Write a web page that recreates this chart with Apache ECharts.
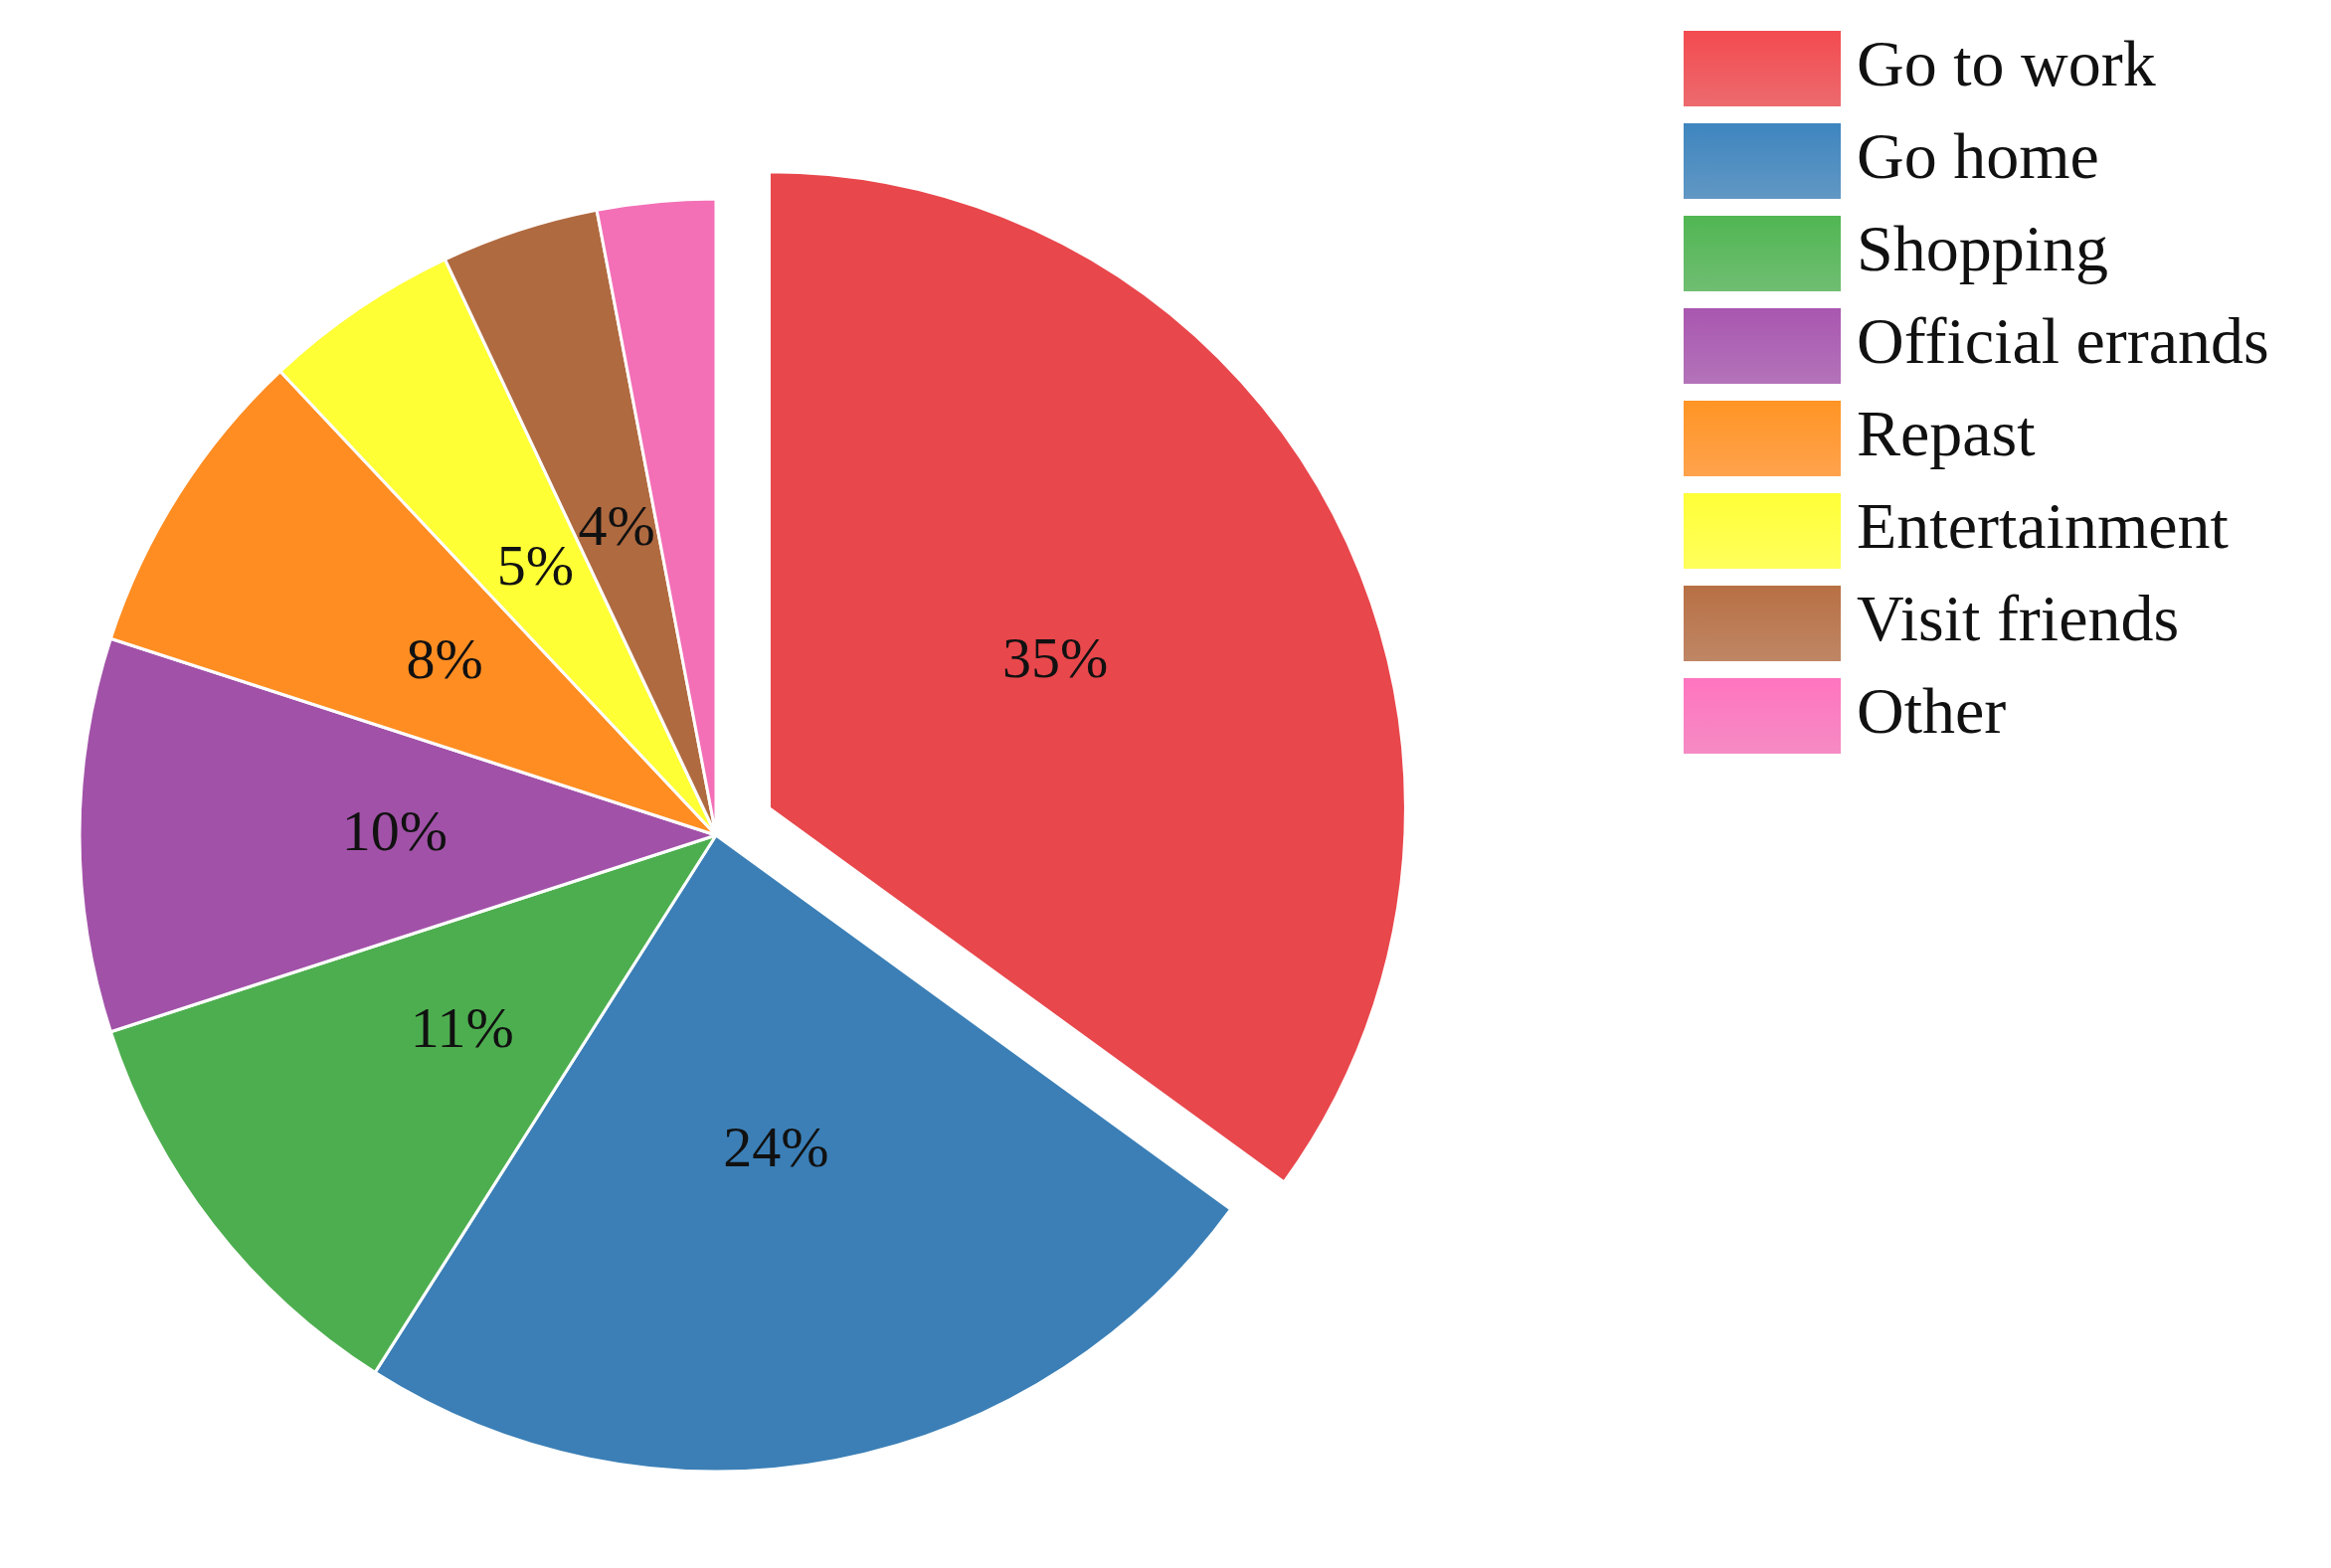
<!DOCTYPE html>
<html><head><meta charset="utf-8">
<script src="https://cdn.jsdelivr.net/npm/echarts@6/dist/echarts.min.js"></script>
<style>html,body{margin:0;padding:0;background:#fff}#c{width:2344px;height:1577px}</style>
</head><body><div id="c"></div>
<script>
const categories = ['Go to work','Go home','Shopping','Official errands','Repast','Entertainment','Visit friends','Other'];
const values = [35,24,11,10,8,5,4,3];
const colors = ['#e8474c','#3b7fb6','#4dae4f','#a152a8','#ff8d22','#ffff35','#b06a40','#f36fb6'];

const chart = echarts.init(document.getElementById('c'));
const grad = c => new echarts.graphic.LinearGradient(0,0,0,1,[{offset:0,color:echarts.color.lift(c,-0.05)},{offset:1,color:echarts.color.lift(c,0.2)}]);
chart.setOption({
  backgroundColor:'#fff',
  legend:{orient:'vertical',left:1686,top:24,itemWidth:160,itemHeight:78,itemGap:13,
    icon:'rect',textStyle:{fontFamily:'Liberation Serif',fontSize:66,color:'#111',padding:[0,0,0,10]},
    data:categories.map((n,i)=>({name:n,itemStyle:{color:grad(colors[i])}}))},
  series:[{type:'pie',center:[720,840],radius:[0,640],startAngle:90,clockwise:true,
    selectedMode:'single',selectedOffset:60,
    itemStyle:{borderColor:'#fff',borderWidth:3},
    label:{position:'inner',formatter:p=>Math.round(p.percent)+'%',fontFamily:'Liberation Serif',fontSize:58,color:'#111'},
    labelLine:{show:false},
    data:categories.map((n,i)=>({name:n,value:values[i],selected:i===0,itemStyle:{color:colors[i]}}))}]
});
</script></body></html>
